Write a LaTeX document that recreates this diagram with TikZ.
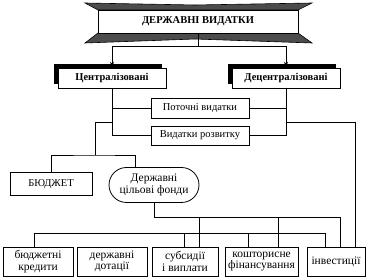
\documentclass[tikz,border=0pt]{standalone}
\usepackage{fontspec}
\setmainfont{Liberation Serif}
\usetikzlibrary{shapes.misc,shadows,arrows.meta}
\begin{document}
\begin{tikzpicture}[x=1pt,y=-1pt,
 box/.style={draw,line width=0.8pt,fill=white,inner sep=1pt,align=center,font=\fontsize{10.5}{11}\selectfont},
 bigbox/.style={box,font=\fontsize{11.5}{11.5}\selectfont},
 shbox/.style={box,font=\fontsize{10.5}{11}\selectfont\bfseries,
   general shadow={fill=black,shadow xshift=-4pt,shadow yshift=4pt}},
 band/.style={draw=black,line width=0.6pt,fill=black!70},
 conn/.style={line width=0.75pt},
 arr/.style={conn,-{Stealth[length=6pt,width=4pt]}}]
\useasboundingbox (0,0) rectangle (375,280);
% banner
\filldraw[band] (85,3) -- (195,5) -- (312,3) -- (298,10) -- (98,10) -- cycle;
\filldraw[band] (98,33) -- (298,33) -- (312,43) -- (195,39) -- (85,43) -- cycle;
\node[box,font=\fontsize{10.5}{12}\selectfont\bfseries,minimum width=200pt,minimum height=23pt] (title) at (198,21.5) {ДЕРЖАВНІ ВИДАТКИ};
% level 2
\node[shbox,minimum width=108pt,minimum height=20pt] (cent) at (112,78) {Централізовані};
\node[shbox,minimum width=108pt,minimum height=20pt] (dec) at (286,78) {Децентралізовані};
% level 3
\node[box,minimum width=98pt,minimum height=20pt] (pot) at (200,108) {Поточні видатки};
\node[box,minimum width=98pt,minimum height=19pt] (roz) at (200,135.5) {Видатки розвитку};
% level 4
\node[box,minimum width=82pt,minimum height=23pt] (bud) at (51,184) {БЮДЖЕТ};
\node[bigbox,rounded rectangle,minimum width=92pt,minimum height=35pt,inner sep=1pt] (fon) at (154,185) {Державні\\цільові фонди};
% bottom
\foreach \n/\x/\w/\t in {b1/38/70/{бюджетні\\кредити},b2/112/70/{державні\\дотації},b3/185/66/{субсидії\\і виплати},b4/261.5/73/{кошторисне\\фінансування},b5/336/58/{інвестиції}}
  \node[bigbox,minimum width=\w pt,minimum height=29pt,inner sep=0.5pt] (\n) at (\x,261.5) {\t};
% connectors top
\coordinate (split) at (198,46);
\draw[conn] (title.south) -- (split);
\draw[arr] (split) -| (cent.north);
\draw[arr] (split) -| (dec.north);
\draw[conn] (cent.south) |- (pot.west);
\draw[conn] (cent.south) |- (roz.west);
\draw[conn] (dec.south) |- (pot.east);
\draw[conn] (dec.south) |- (roz.east);
% left loop
\coordinate (jL) at (112,122);
\coordinate (jL2) at (95,155);
\coordinate (fonT) at ([xshift=-19pt]fon.north);
\draw[conn] (jL) -| (jL2);
\draw[conn] (bud.north) |- (jL2) -| (fonT);
% right loop
\coordinate (jR) at (286,122);
\coordinate (b5R) at ([xshift=19pt]b5.north);
\draw[conn] (jR) -| (b5R);
% upper bus
\coordinate (ub) at (340,217);
\draw[conn] (fon.south) |- (ub) -- (ub |- b5.north);
\foreach \x/\n in {199/b3,278/b4} {
  \coordinate (t) at (\x,217);
  \draw[conn] (t) -- (t |- \n.north);
}
% lower bus
\draw[conn] (34,233) -- (325,233);
\foreach \x/\n in {34/b1,184/b3,248/b4,325/b5} {
  \coordinate (t) at (\x,233);
  \draw[conn] (t) -- (t |- \n.north);
}
\end{tikzpicture}
\end{document}
